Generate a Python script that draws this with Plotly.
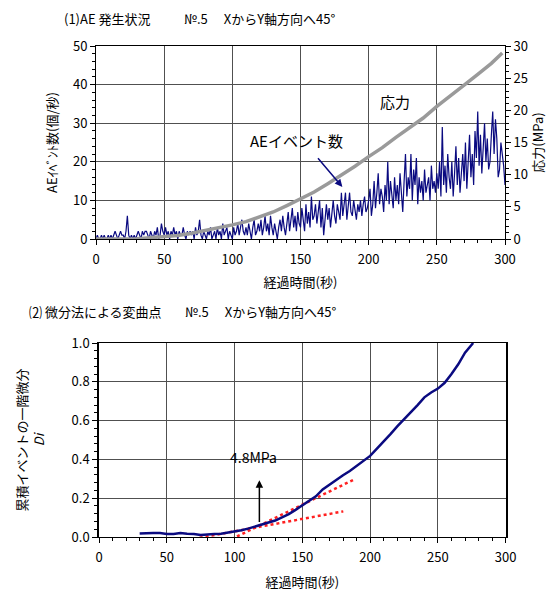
import plotly.graph_objects as go

# ---------------- data ----------------
ae_time = list(range(0, 301))
ae_counts = [
    0, 1, 0, 0, 1, 0, 1, 0, 0, 1,
    0, 1, 0, 1, 2, 1, 0, 1, 2, 1,
    1, 0, 2, 6, 1, 0, 1, 0, 1, 0,
    1, 2, 1, 0, 2, 1, 2, 2, 1, 0,
    2, 1, 0, 2, 1, 3, 0, 1, 4, 2,
    1, 3, 1, 2, 0, 2, 1, 3, 1, 2,
    0, 2, 1, 1, 3, 1, 0, 2, 1, 2,
    1, 2, 0, 3, 1, 2, 5, 1, 0, 2,
    1, 0, 2, 1, 3, 0, 1, 2, 0, 3,
    1, 2, 0, 4, 1, 2, 3, 0, 2, 1,
    0, 3, 1, 2, 4, 1, 3, 5, 2, 1,
    3, 1, 4, 2, 0, 3, 5, 1, 2, 4,
    2, 5, 1, 3, 6, 2, 4, 1, 6, 3,
    1, 4, 2, 0, 3, 5, 2, 6, 3, 1,
    4, 7, 2, 5, 8, 3, 6, 2, 7, 4,
    3, 8, 5, 2, 9, 4, 7, 3, 11, 5,
    6, 9, 4, 7, 10, 3, 8, 1, 6, 9,
    5, 8, 3, 7, 10, 6, 4, 9, 7, 5,
    12, 6, 9, 12, 5, 8, 12, 7, 6, 10,
    8, 5, 9, 7, 10, 6, 9, 11, 7, 8,
    10, 13, 6, 9, 15, 8, 12, 17, 9, 13,
    11, 7, 14, 10, 20, 9, 15, 12, 8, 16,
    10, 14, 9, 17, 12, 7, 15, 22, 11, 16,
    13, 22, 10, 18, 14, 21, 9, 16, 12, 15,
    10, 18, 12, 14, 16, 10, 19, 13, 15, 12,
    17, 13, 20, 11, 29, 14, 19, 12, 22, 16,
    13, 20, 11, 17, 24, 14, 21, 12, 18, 22,
    15, 25, 13, 20, 27, 16, 22, 14, 28, 21,
    33, 19, 27, 17, 24, 30, 20, 26, 18, 20,
    27, 33, 22, 31, 26, 16, 18, 25, 22, 19,
    14,
]

stress_time = [0, 20, 30, 40, 50, 60, 70, 80, 90, 100, 110, 120, 130, 140, 150,
               160, 170, 180, 190, 200, 210, 220, 230, 240, 250, 260, 270, 280,
               290, 298]
stress_mpa = [0.0, 0.0, 0.05, 0.2, 0.36, 0.55, 0.9, 1.3, 1.7, 2.2, 2.7, 3.4, 4.2,
              5.2, 6.3, 7.3, 8.6, 9.9, 11.3, 12.8, 14.2, 15.8, 17.3, 18.8, 20.6,
              22.2, 23.9, 25.6, 27.3, 28.9]

di_time = [30, 35, 40, 45, 50, 55, 60, 65, 70, 75, 80, 85, 90, 95, 100, 105, 110,
           115, 120, 125, 130, 135, 140, 145, 150, 155, 160, 165, 170, 175, 180,
           185, 190, 195, 200, 205, 210, 215, 220, 225, 230, 235, 240, 245, 250,
           255, 260, 265, 270, 275, 276]
di_values = [0.018, 0.02, 0.02, 0.02, 0.016, 0.016, 0.02, 0.017, 0.016, 0.01,
             0.014, 0.015, 0.017, 0.022, 0.027, 0.035, 0.043, 0.055, 0.065, 0.075,
             0.085, 0.1, 0.118, 0.14, 0.163, 0.185, 0.21, 0.245, 0.27, 0.295,
             0.318, 0.34, 0.365, 0.39, 0.418, 0.455, 0.49, 0.53, 0.57, 0.605,
             0.64, 0.68, 0.72, 0.745, 0.765, 0.795, 0.84, 0.89, 0.95, 0.995, 1.0]

tangent1_time = [43.8, 180.2]
tangent1_di = [-0.043, 0.132]
tangent2_time = [81.9, 188.3]
tangent2_di = [-0.065, 0.297]

x_ticks = [0, 50, 100, 150, 200, 250, 300]
ae_ticks = [0, 10, 20, 30, 40, 50]
stress_ticks = [0, 5, 10, 15, 20, 25, 30]
di_ticks = [0.0, 0.2, 0.4, 0.6, 0.8, 1.0]
di_tick_labels = ["0.0", "0.2", "0.4", "0.6", "0.8", "1.0"]

# ---------------- figure ----------------
FONT = "Noto Sans CJK JP"
NAVY = "#0a0a80"
GRID = "#505050"
W, H, OFF = 547, 586, 8   # page has an 8px body margin


def px_x(p):
    return (p - OFF) / W


def px_y(p):
    return 1 - (p - OFF) / H


fig = go.Figure()

fig.add_trace(go.Scatter(x=stress_time, y=stress_mpa, mode="lines",
                         line=dict(color="#9a9a9a", width=3.5),
                         xaxis="x", yaxis="y2", showlegend=False))
fig.add_trace(go.Scatter(x=ae_time, y=ae_counts, mode="lines",
                         line=dict(color=NAVY, width=1.2),
                         xaxis="x", yaxis="y", showlegend=False))

fig.add_trace(go.Scatter(x=tangent1_time, y=tangent1_di, mode="lines",
                         line=dict(color="#ff2020", width=2.5, dash="dot"),
                         xaxis="x2", yaxis="y3", showlegend=False))
fig.add_trace(go.Scatter(x=tangent2_time, y=tangent2_di, mode="lines",
                         line=dict(color="#ff2020", width=2.5, dash="dot"),
                         xaxis="x2", yaxis="y3", showlegend=False))
fig.add_trace(go.Scatter(x=di_time, y=di_values, mode="lines",
                         line=dict(color=NAVY, width=2.5),
                         xaxis="x2", yaxis="y3", showlegend=False))

tickfont = dict(family=FONT, size=13, color="black")
titlefont = dict(family=FONT, size=13, color="black")

common_x = dict(range=[0, 300], tickvals=x_ticks, showline=True, linecolor="black",
                linewidth=1, ticks="outside", ticklen=5, tickcolor="black",
                showgrid=True, gridcolor=GRID, gridwidth=1, zeroline=False,
                tickfont=tickfont, automargin=False, ticklabelstandoff=3,
                minor=dict(dtick=10, ticks="outside", ticklen=3, tickcolor="black",
                           showgrid=False))

fig.update_layout(
    width=W, height=H,
    margin=dict(l=0, r=0, t=0, b=0, autoexpand=False),
    paper_bgcolor="white", plot_bgcolor="white",
    font=dict(family=FONT, size=13, color="black"),
    xaxis=dict(common_x, domain=[px_x(96), px_x(505)], anchor="y", mirror=True,
               title=dict(text="経過時間(秒)", font=titlefont, standoff=11)),
    yaxis=dict(range=[0, 50], tickvals=ae_ticks, domain=[px_y(239), px_y(46)],
               anchor="x", showline=True, linecolor="black", linewidth=1,
               ticks="outside", ticklen=5, tickcolor="black", showgrid=True,
               gridcolor=GRID, gridwidth=1, zeroline=False, tickfont=tickfont,
               automargin=False,
               minor=dict(dtick=2, ticks="outside", ticklen=3, tickcolor="black",
                          showgrid=False),
               title=dict(text="AEｲﾍﾞﾝﾄ数(個/秒)", font=titlefont, standoff=12)),
    yaxis2=dict(range=[0, 30], tickvals=stress_ticks, overlaying="y", side="right",
                anchor="x", showline=True, linecolor="black", linewidth=1,
                ticks="outside", ticklen=5, tickcolor="black", showgrid=False,
                zeroline=False, tickfont=tickfont, automargin=False,
                minor=dict(dtick=1, ticks="outside", ticklen=3, tickcolor="black",
                           showgrid=False),
                title=dict(text="応力(MPa)", font=titlefont, standoff=6)),
    xaxis2=dict(common_x, domain=[px_x(99), px_x(505.7)], anchor="y3", mirror=True,
                title=dict(text="経過時間(秒)", font=titlefont, standoff=13)),
    yaxis3=dict(range=[0, 1.0], tickvals=di_ticks, ticktext=di_tick_labels,
                domain=[px_y(537), px_y(343)], anchor="x2", showline=True,
                linecolor="black", linewidth=1.5, mirror=True,
                ticks="outside", ticklen=5, tickcolor="black", showgrid=True,
                gridcolor=GRID, gridwidth=1, zeroline=False, tickfont=tickfont,
                automargin=False,
                minor=dict(dtick=0.04, ticks="outside", ticklen=3, tickcolor="black",
                           showgrid=False),
                title=dict(text="累積イベントの一階微分<br><i>Di</i>", font=titlefont,
                           standoff=24)),
)

annos = [
    dict(text="(1)AE 発生状況", x=63, y=311 - 311),
    dict(text="№.5　 XからY軸方向へ45°", x=183, y=0),
]
# top-row titles are anchored at the page top; lower titles centred on their row
fig.add_annotation(text="(1)AE 発生状況", x=px_x(63), y=1.0, xref="paper",
                   yref="paper", xanchor="left", yanchor="top", borderpad=0,
                   showarrow=False, font=dict(family=FONT, size=13, color="black"))
fig.add_annotation(text="№.5　 XからY軸方向へ45°", x=px_x(183), y=1.0, xref="paper",
                   yref="paper", xanchor="left", yanchor="top", borderpad=0,
                   showarrow=False, font=dict(family=FONT, size=13, color="black"))
fig.add_annotation(text="⑵ 微分法による変曲点", x=px_x(27), y=px_y(311),
                   xref="paper", yref="paper", xanchor="left", yanchor="middle",
                   showarrow=False, font=dict(family=FONT, size=13, color="black"))
fig.add_annotation(text="№.5　 XからY軸方向へ45°", x=px_x(183), y=px_y(311),
                   xref="paper", yref="paper", xanchor="left", yanchor="middle",
                   showarrow=False, font=dict(family=FONT, size=13, color="black"))

fig.add_annotation(text="応力", x=219, y=35.6, xref="x", yref="y", showarrow=False,
                   font=dict(family=FONT, size=15, color="black"))
fig.add_annotation(text="AEイベント数", x=147.4, y=25.6, xref="x", yref="y",
                   showarrow=False, font=dict(family=FONT, size=15, color="black"))
fig.add_annotation(text="", x=180.7, y=13.5, ax=161.9, ay=21.3, xref="x", yref="y",
                   axref="x", ayref="y", showarrow=True, arrowhead=2, arrowsize=1,
                   arrowwidth=1.5, arrowcolor=NAVY)

fig.add_annotation(text="4.8MPa", x=114, y=0.41, xref="x2", yref="y3",
                   showarrow=False, font=dict(family=FONT, size=14, color="black"))
fig.add_annotation(text="", x=118.3, y=0.292, ax=118.3, ay=0.069, xref="x2",
                   yref="y3", axref="x2", ayref="y3", showarrow=True, arrowhead=2,
                   arrowsize=1, arrowwidth=1.5, arrowcolor="black")

fig.write_html("out.html")
